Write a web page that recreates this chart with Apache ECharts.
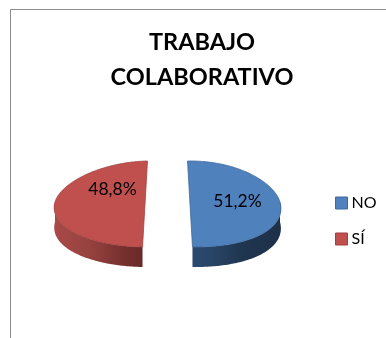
<!DOCTYPE html>
<html><head><meta charset="utf-8">
<style>html,body{margin:0;padding:0;background:#fff}#c{width:386px;height:338px}</style>
<script src="https://cdn.jsdelivr.net/npm/echarts@6/dist/echarts.min.js"></script>
</head><body><div id="c"></div>
<script>
const categories = ['NO', 'SÍ'];
const shares = [51.2, 48.8];
const titleText = 'TRABAJO\nCOLABORATIVO';

const TOP = ['#4f81bd', '#c0504d'];
const EDGE = ['#41699b', '#9e413f'];
const LABEL_AT = [[237.5, 201], [112.5, 189]];
const SIDE = [
  [{offset:0,color:'#2b4a70'},{offset:0.2,color:'#294668'},{offset:0.55,color:'#1f3650'},{offset:1,color:'#1d3049'}],
  [{offset:0,color:'#a94a47'},{offset:0.4,color:'#96423f'},{offset:0.8,color:'#752f2d'},{offset:1,color:'#682a28'}]
];
const cx = 167.5, cy = 202, r = 90, ryBack = 41, ryFront = 45, depth = 20, gap = 22.5, persp = 0.11, warp = 3.4;
const total = shares.reduce((a, b) => a + b, 0);
const rot = 90 - shares[0] / total * 180;

function project(X, Y, dz) {
  return [cx + X * (1 + persp * Y / r), cy + Y * (Y < 0 ? ryBack : ryFront) / r + dz];
}
function sliceRange(i) {
  let s = rot;
  for (let k = 0; k < i; k++) s += shares[k] / total * 360;
  return [s, s + shares[i] / total * 360];
}
function arc(i, a0, a1, dz) {
  const mid = sliceRange(i);
  const bis = (mid[0] + mid[1]) / 2 * Math.PI / 180;
  const ox = gap * Math.sin(bis);
  const pts = [];
  const n = Math.max(2, Math.ceil(Math.abs(a1 - a0)));
  for (let k = 0; k <= n; k++) {
    const t = (a0 + (a1 - a0) * k / n) * Math.PI / 180;
    const c = Math.cos(t);
    pts.push(project(ox + r * Math.sin(t) + warp * c * c, -r * c, dz));
  }
  return pts;
}
function renderSlice(i) {
  return function (params, api) {
    const v = api.value(0);
    const [a0, a1] = sliceRange(i);
    const f0 = Math.max(a0, 90), f1 = Math.min(a1, 270);
    const front = arc(i, f0, f1, 0);
    const wall = front.concat(arc(i, f1, f0, depth));
    const top = arc(i, a0, a1, 0);
    return {
      type: 'group',
      children: [
        { type: 'polygon', shape: { points: wall },
          style: { fill: new echarts.graphic.LinearGradient(0, 0, 1, 0, SIDE[i]) } },
        { type: 'polygon', shape: { points: top },
          style: { fill: TOP[i], stroke: EDGE[i], lineWidth: 0.8 } },
        { type: 'text', z2: 10,
          style: { x: LABEL_AT[i][0], y: LABEL_AT[i][1], text: v.toFixed(1).replace('.', ',') + '%',
                   fill: '#000', font: '17.5px Lato', align: 'center', verticalAlign: 'middle' } }
      ]
    };
  };
}

const chart = echarts.init(document.getElementById('c'), null, { renderer: 'canvas' });
chart.setOption({
  animation: false,
  backgroundColor: '#fff',
  title: {
    text: titleText, left: 197, top: 20, textAlign: 'center',
    textStyle: { fontFamily: 'Lato', fontWeight: 'bold', fontSize: 23.5, lineHeight: 35, color: '#000' }
  },
  legend: {
    orient: 'vertical', left: 335, top: 195, padding: 0, itemWidth: 12, itemHeight: 12, itemGap: 20,
    textStyle: { fontFamily: 'Lato', fontSize: 16, color: '#000', padding: [0, 0, 0, -1] },
    data: categories.map((n, i) => ({
      name: n, icon: 'rect',
      itemStyle: { color: TOP[i], borderColor: EDGE[i], borderWidth: 1 }
    }))
  },
  graphic: [
    { type: 'polyline', shape: { points: [[10.5, 338], [10.5, 9.5], [386, 9.5]] },
      style: { stroke: '#8c8c8c', fill: null, lineWidth: 1 } }
  ],
  series: categories.map((n, i) => ({
    type: 'custom', name: n, coordinateSystem: 'none',
    itemStyle: { color: TOP[i] },
    renderItem: renderSlice(i),
    data: [[shares[i]]]
  }))
});
</script></body></html>
